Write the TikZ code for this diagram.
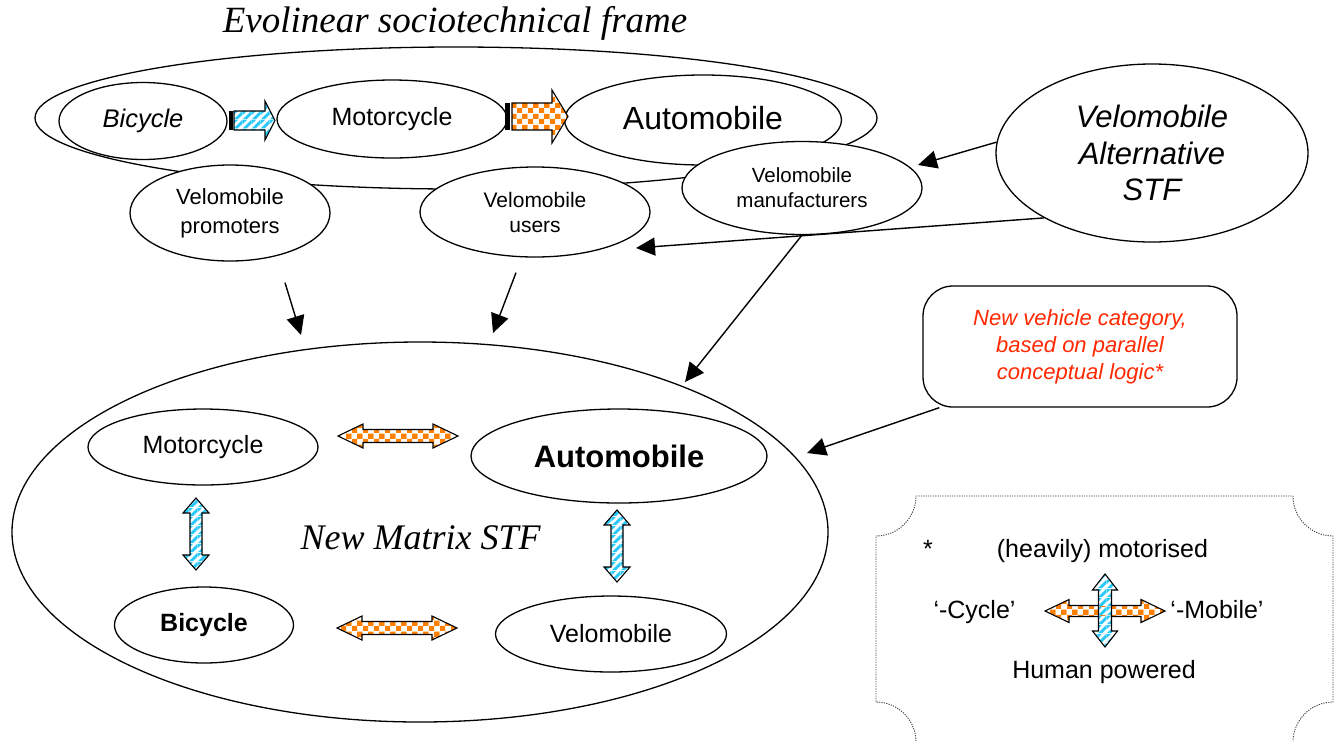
\documentclass[tikz,border=0pt]{standalone}
\usepackage{fontspec}
\setmainfont{Liberation Sans}
\newfontfamily\timesfont{Liberation Serif}
\usetikzlibrary{shapes.geometric,arrows.meta,calc,patterns}

\definecolor{chkorange}{RGB}{255,128,0}
\definecolor{stripecyan}{RGB}{40,200,250}
\definecolor{notered}{RGB}{255,40,0}

% orange/white chequer fill
\pgfdeclarepatterninherentlycolored{chequer}
{\pgfpointorigin}{\pgfqpoint{11pt}{11pt}}{\pgfqpoint{11pt}{11pt}}
{%
  \pgfsetfillcolor{white}%
  \pgfpathrectangle{\pgfpointorigin}{\pgfqpoint{11pt}{11pt}}%
  \pgfusepath{fill}%
  \pgfsetfillcolor{chkorange}%
  \pgfpathrectangle{\pgfpointorigin}{\pgfqpoint{5.5pt}{5.5pt}}%
  \pgfpathrectangle{\pgfqpoint{5.5pt}{5.5pt}}{\pgfqpoint{5.5pt}{5.5pt}}%
  \pgfusepath{fill}%
}

% cyan/white diagonal stripes
\pgfdeclarepatterninherentlycolored{cyanstripes}
{\pgfpointorigin}{\pgfqpoint{9pt}{9pt}}{\pgfqpoint{9pt}{9pt}}
{%
  \pgfsetfillcolor{white}%
  \pgfpathrectangle{\pgfpointorigin}{\pgfqpoint{9pt}{9pt}}%
  \pgfusepath{fill}%
  \pgfsetfillcolor{stripecyan}%
  \pgfpathmoveto{\pgfpointorigin}%
  \pgfpathlineto{\pgfqpoint{4.5pt}{0pt}}%
  \pgfpathlineto{\pgfqpoint{9pt}{4.5pt}}%
  \pgfpathlineto{\pgfqpoint{9pt}{9pt}}%
  \pgfpathclose
  \pgfpathmoveto{\pgfqpoint{0pt}{4.5pt}}%
  \pgfpathlineto{\pgfqpoint{4.5pt}{9pt}}%
  \pgfpathlineto{\pgfqpoint{0pt}{9pt}}%
  \pgfpathclose
  \pgfusepath{fill}%
}

\newcommand\fsz[2]{\fontsize{#1}{#2}\selectfont}

\tikzset{
  % block arrow: #1 length, #2 half shaft, #3 half head, #4 head length
  pics/blockarrow/.style n args={4}{code={
    \path[pic actions] (0,-#2) -- ({#1-#4},-#2) -- ({#1-#4},-#3) -- (#1,0)
      -- ({#1-#4},#3) -- ({#1-#4},#2) -- (0,#2) -- cycle;
  }},
  % double block arrow centred on the origin
  pics/dblarrow/.style n args={4}{code={
    \path[pic actions] ({-#1/2},0) -- ({-#1/2+#4},-#3) -- ({-#1/2+#4},-#2)
      -- ({#1/2-#4},-#2) -- ({#1/2-#4},-#3) -- ({#1/2},0) -- ({#1/2-#4},#3)
      -- ({#1/2-#4},#2) -- ({-#1/2+#4},#2) -- ({-#1/2+#4},#3) -- cycle;
  }},
}

\begin{document}
\begin{tikzpicture}[x=1pt,y=-1pt,
  oval/.style={ellipse, draw, fill=white, line width=1.3pt, inner sep=0pt, align=center},
  link/.style={line width=1.4pt, -{Triangle[length=19pt,width=18pt]}},
  chk/.style={draw, line width=1.1pt, pattern=chequer},
  stp/.style={draw, line width=1.1pt, pattern=cyanstripes},
  plaque/.style={draw=black!75, line width=0.9pt, dash pattern=on 1.2pt off 1.2pt},
  legendtext/.style={font=\fsz{25}{29}, anchor=base},
]
\useasboundingbox (0,0) rectangle (1335,740);

% ---- evolinear frame ----
\node[font=\timesfont\itshape\fsz{37}{44}, anchor=base] (title) at (455,32) {Evolinear sociotechnical frame};
\node[oval, fill=none, minimum width=842, minimum height=142] (frame) at (456,118) {};

\node[oval, minimum width=168, minimum height=77, font=\itshape\fsz{25.5}{30}] (bike1) at (143,121) {Bicycle};
\node[oval, minimum width=230, minimum height=78, font=\fsz{25}{30}] (moto1) at (392,119) {Motorcycle};
\node[oval, minimum width=277, minimum height=90, font=\fsz{32}{38}] (auto1) at (703,120) {\raisebox{4pt}{Automobile}};

% evolution arrows with their tail bars
\fill (229,111) rectangle (232.5,130);
\pic[stp] at (234,120.5) {blockarrow={41}{9.5}{19.5}{10}};
\fill (505,103) rectangle (509.5,130);
\pic[chk] at (512,116.5) {blockarrow={56}{13.5}{26.5}{16}};

% ---- actors ----
\node[oval, minimum width=200, minimum height=96, font=\fsz{22}{29}] (prom) at (230,213) {Velomobile\\promoters};
\node[oval, minimum width=230, minimum height=90, font=\fsz{21}{25}] (users) at (535,212) {Velomobile\\users};
\node[oval, minimum width=240, minimum height=93, font=\fsz{20.5}{25}] (maker) at (802,188) {Velomobile\\manufacturers};

\node[oval, minimum width=312, minimum height=178, font=\itshape\fsz{31}{36.5}] (alt) at (1152,153) {Velomobile\\Alternative\\STF};

% ---- new matrix frame ----
\node[oval, fill=none, minimum width=816, minimum height=380] (matrix) at (420,532) {};
\node[font=\timesfont\itshape\fsz{36}{42}, anchor=base] (mlabel) at (420.5,549) {New Matrix STF};
\node[oval, minimum width=230, minimum height=76, font=\fsz{25}{30}] (moto2) at (203,447) {Motorcycle};
\node[oval, minimum width=296, minimum height=94, font=\bfseries\fsz{31}{36}] (auto2) at (619,456) {Automobile};
\node[oval, minimum width=179, minimum height=76, font=\bfseries\fsz{25}{30}] (bike2) at (204,625) {Bicycle};
\node[oval, minimum width=231, minimum height=76, font=\fsz{25}{30}] (velo2) at (611,634) {Velomobile};

\pic[chk] at (398,436) {dblarrow={120}{6.5}{12}{25}};
\pic[chk] at (397,628) {dblarrow={120}{6.5}{12}{25}};
\pic[stp, rotate=90] at (196,534) {dblarrow={72}{6}{13}{15}};
\pic[stp, rotate=90] at (617,546) {dblarrow={72}{6}{13}{15}};

% ---- callout ----
\node[draw, line width=1.3pt, rounded corners=30pt, fill=white, minimum width=314, minimum height=121,
      align=center, text=notered, font=\itshape\fsz{22}{27}] (note) at (1080,346.5)
      {New vehicle category,\\based on parallel\\conceptual logic*};

% ---- influence arrows ----
\coordinate (tipA) at (918,165);
\coordinate (tipB) at (636,248);
\coordinate (fromP) at ($(prom.south)+(55,21)$);
\coordinate (tipP) at (301,335);
\coordinate (fromU) at ($(users.south)+(-19,15)$);
\coordinate (tipU) at (493,333);
\coordinate (tipM) at (685,382);
\coordinate (fromN) at ($(note.south west)+(17,0)$);
\coordinate (tipN) at (807,453);

\draw[link] (alt.176) -- (tipA);
\draw[link] (alt.211) -- (tipB);
\draw[link] (fromP) -- (tipP);
\draw[link] (fromU) -- (tipU);
\draw[link] (maker.south) -- (tipM);
\draw[link] (fromN) -- (tipN);

% ---- legend ----
\draw[plaque] (916,496) -- (1293,496) .. controls (1293,518) and (1311,536) .. (1333,536)
  -- (1333,702) .. controls (1311,702) and (1293,720) .. (1293,742)
  -- (916,742) .. controls (916,720) and (898,702) .. (876,702)
  -- (876,536) .. controls (898,536) and (916,518) .. (916,496) -- cycle;

\node[legendtext] (star) at (928,557) {*};
\node[legendtext] (motor) at (1102.5,557) {(heavily) motorised};
\node[legendtext] (cyc) at (974.5,618) {‘-Cycle’};
\node[legendtext] (mob) at (1217,618) {‘-Mobile’};
\node[legendtext] (human) at (1104,678) {Human powered};
\pic[chk] at (1105,611) {dblarrow={120}{5.5}{11.5}{24}};
\pic[stp, rotate=90] at (1105,610.5) {dblarrow={73}{6.5}{12.5}{16}};

\end{tikzpicture}
\end{document}
